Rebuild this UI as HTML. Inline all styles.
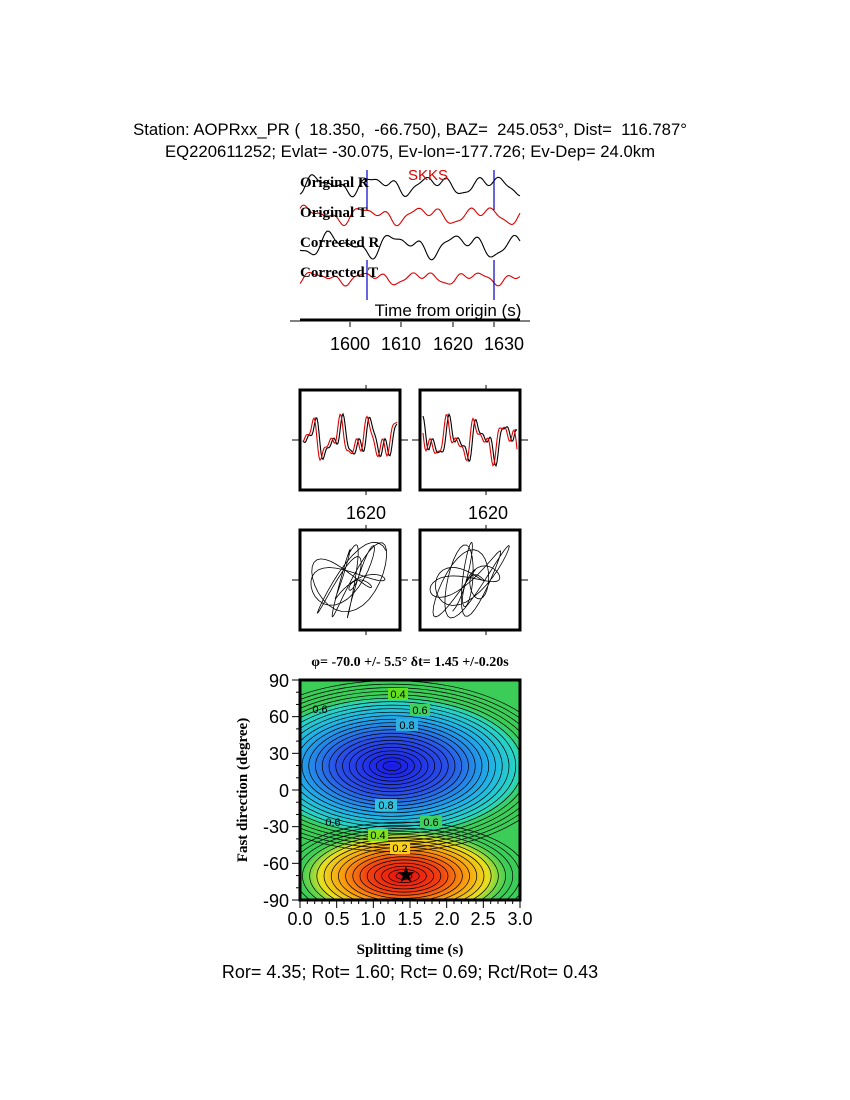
<!DOCTYPE html>
<html><head><meta charset="utf-8"><style>
body{margin:0;background:#fff;width:850px;height:1100px;overflow:hidden}
svg{position:absolute;left:0;top:0}
text{white-space:pre}
</style></head><body>
<svg width="850" height="1100" viewBox="0 0 850 1100" xmlns="http://www.w3.org/2000/svg" xml:space="preserve">
<defs>
<radialGradient id="gb" cx="0.5" cy="0.5" r="0.5">
<stop offset="0" stop-color="#1a1ae6"/><stop offset="0.4" stop-color="#2a50e6"/><stop offset="0.7" stop-color="#20b0e8"/><stop offset="0.9" stop-color="#28d8c0"/><stop offset="1" stop-color="#38d070" stop-opacity="0"/></radialGradient>
<radialGradient id="gr" cx="0.5" cy="0.5" r="0.5">
<stop offset="0" stop-color="#e81010"/><stop offset="0.35" stop-color="#f04010"/><stop offset="0.6" stop-color="#f8a010"/><stop offset="0.8" stop-color="#e8e020"/><stop offset="1" stop-color="#80e040" stop-opacity="0"/></radialGradient>
<clipPath id="cp"><rect x="300" y="680" width="220" height="220"/></clipPath>
</defs>
<g font-family="Liberation Sans, sans-serif" font-size="16.7" text-anchor="middle">
<text x="410" y="135">Station: AOPRxx_PR (  18.350,  -66.750), BAZ=  245.053°, Dist=  116.787°</text>
<text x="410" y="157">EQ220611252; Evlat= -30.075, Ev-lon=-177.726; Ev-Dep= 24.0km</text>
</g>
<g id="traces" fill="none" stroke-width="1.2"></g>
<g stroke="#00c" stroke-width="1.2">
<line x1="367" y1="170" x2="367" y2="210"/><line x1="494" y1="170" x2="494" y2="210"/>
<line x1="367" y1="260" x2="367" y2="300"/><line x1="494" y1="260" x2="494" y2="300"/>
</g>
<g font-family="Liberation Serif, serif" font-weight="bold" font-size="15">
<text x="300" y="187">Original R</text><text x="300" y="217">Original T</text>
<text x="300" y="247">Corrected R</text><text x="300" y="277">Corrected T</text>
</g>
<text x="408" y="180" font-family="Liberation Sans, sans-serif" font-size="15" fill="#d00">SKKS</text>
<text x="448" y="316" font-family="Liberation Sans, sans-serif" font-size="17" text-anchor="middle">Time from origin (s)</text>
<line x1="290" y1="321" x2="530" y2="321" stroke="#000" stroke-width="1"/>
<line x1="300" y1="320" x2="520" y2="320" stroke="#000" stroke-width="3"/>
<g stroke="#000"><line x1="350" y1="322" x2="350" y2="327"/><line x1="401" y1="322" x2="401" y2="327"/><line x1="453" y1="322" x2="453" y2="327"/><line x1="494" y1="322" x2="494" y2="327"/></g>
<g font-family="Liberation Sans, sans-serif" font-size="18" text-anchor="middle">
<text x="350" y="350">1600</text><text x="401" y="350">1610</text><text x="453" y="350">1620</text><text x="504" y="350">1630</text>
<text x="366" y="519">1620</text><text x="488" y="519">1620</text>
</g>
<g id="boxes"></g>
<rect x="300" y="680" width="220" height="220" fill="#3ccc58"/>
<g clip-path="url(#cp)">
<rect x="300" y="680" width="220" height="220" fill="#3ccc58"/>
<ellipse cx="392" cy="766" rx="140" ry="72" fill="url(#gb)"/>
<ellipse cx="404" cy="876" rx="105" ry="48" fill="url(#gr)"/>
<g id="cont" fill="none" stroke="#000" stroke-width="0.7"></g>
</g>
<rect x="300" y="680" width="220" height="220" fill="none" stroke="#000" stroke-width="3"/>
<g font-family="Liberation Sans, sans-serif" font-size="11" text-anchor="middle">
<rect x="388" y="688" width="20" height="12" fill="#60e020"/><text x="398" y="698">0.4</text>
<rect x="410" y="704" width="20" height="12" fill="#40d060"/><text x="420" y="714">0.6</text>
<rect x="396" y="719" width="22" height="12" fill="#30b0e0"/><text x="407" y="729">0.8</text>
<rect x="375" y="799" width="22" height="12" fill="#30c0e0"/><text x="386" y="809">0.8</text>
<text x="320" y="713">0.6</text><text x="333" y="826">0.6</text>
<rect x="420" y="816" width="22" height="12" fill="#40d060"/><text x="431" y="826">0.6</text>
<rect x="368" y="829" width="20" height="12" fill="#80e020"/><text x="378" y="839">0.4</text>
<rect x="390" y="842" width="20" height="12" fill="#f8d020"/><text x="400" y="852">0.2</text>
</g>
<text x="406" y="882" font-size="22" text-anchor="middle">★</text>
<g stroke="#000" id="cticks"></g>
<g font-family="Liberation Sans, sans-serif" font-size="18" text-anchor="end">
<text x="289" y="687">90</text><text x="289" y="723">60</text><text x="289" y="760">30</text><text x="289" y="797">0</text>
<text x="289" y="833">-30</text><text x="289" y="870">-60</text><text x="289" y="907">-90</text>
</g>
<g font-family="Liberation Sans, sans-serif" font-size="18" text-anchor="middle">
<text x="300" y="925">0.0</text><text x="337" y="925">0.5</text><text x="373" y="925">1.0</text><text x="410" y="925">1.5</text>
<text x="447" y="925">2.0</text><text x="483" y="925">2.5</text><text x="520" y="925">3.0</text>
</g>
<text x="410" y="666" font-family="Liberation Serif, serif" font-weight="bold" font-size="14" text-anchor="middle">φ= -70.0 +/- 5.5° δt= 1.45 +/-0.20s</text>
<text x="410" y="954" font-family="Liberation Serif, serif" font-weight="bold" font-size="15" text-anchor="middle">Splitting time (s)</text>
<text transform="translate(247,790) rotate(-90)" font-family="Liberation Serif, serif" font-weight="bold" font-size="15" text-anchor="middle">Fast direction (degree)</text>
<text x="410" y="978" font-family="Liberation Sans, sans-serif" font-size="18" text-anchor="middle">Ror= 4.35; Rot= 1.60; Rct= 0.69; Rct/Rot= 0.43</text>
</svg>
<script>
var NS="http://www.w3.org/2000/svg";
function el(p,t,a){var e=document.createElementNS(NS,t);for(var k in a)e.setAttribute(k,a[k]);p.appendChild(e);return e;}
function wave(x0,x1,y0,amp,seed,col,par,f){f=f||0.09;var d="";for(var x=x0;x<=x1;x+=1){var t=x*f;var y=y0+amp*(Math.sin(t*1.1+seed)*0.5+Math.sin(t*2.3+seed*2)*0.35+Math.sin(t*3.7+seed*3)*0.2);d+=(x==x0?"M":"L")+x+" "+y.toFixed(1);}el(par,"path",{d:d,stroke:col,fill:"none","stroke-width":1.1});}
var tr=document.getElementById("traces");
wave(300,520,185,12,1,"#000",tr,0.1);wave(300,520,215,11,2,"#d00",tr,0.1);wave(300,520,245,15,3,"#000",tr,0.09);wave(300,520,278,8,4,"#d00",tr,0.11);
var bx=document.getElementById("boxes");
[[300,390],[420,390],[300,530],[420,530]].forEach(function(b,i){
 if(i<2){wave(b[0]+3,b[0]+97,b[1]+50,26,i+5,"#000",bx,0.2);wave(b[0]+3,b[0]+97,b[1]+50,26,i+5.6,"#d00",bx,0.2);}
 else{var d="";for(var k=0;k<200;k++){var t=k*0.2;var x=b[0]+50+40*Math.sin(t*0.9+i)*Math.cos(t*0.21);var y=b[1]+50+38*Math.sin(t*1.3+i*2)*Math.cos(t*0.17);d+=(k?"L":"M")+x.toFixed(1)+" "+y.toFixed(1);}el(bx,"path",{d:d,stroke:"#000",fill:"none","stroke-width":0.8});}
 el(bx,"rect",{x:b[0],y:b[1],width:100,height:100,fill:"none",stroke:"#000","stroke-width":3});
 el(bx,"line",{x1:b[0]+66,y1:b[1]-5,x2:b[0]+66,y2:b[1],stroke:"#000"});el(bx,"line",{x1:b[0]+66,y1:b[1]+100,x2:b[0]+66,y2:b[1]+105,stroke:"#000"});
 el(bx,"line",{x1:b[0]-8,y1:b[1]+50,x2:b[0],y2:b[1]+50,stroke:"#000"});el(bx,"line",{x1:b[0]+100,y1:b[1]+50,x2:b[0]+108,y2:b[1]+50,stroke:"#000"});
});
var c=document.getElementById("cont");
for(var r=6;r<110;r+=4.5){el(c,"ellipse",{cx:392,cy:766,rx:r*1.5,ry:r*0.78});}
for(var r=5;r<80;r+=4.5){el(c,"ellipse",{cx:404,cy:876,rx:r*1.6,ry:r*0.7});}
var ct=document.getElementById("cticks");
for(var i=0;i<=30;i++){var x=300+i*220/30;el(ct,"line",{x1:x,y1:900,x2:x,y2:i%5?904:908});}
for(var i=0;i<=18;i++){var y=680+i*220/18;el(ct,"line",{x1:300,y1:y,x2:i%3?296:292,y2:y});}
</script>
</body></html>
